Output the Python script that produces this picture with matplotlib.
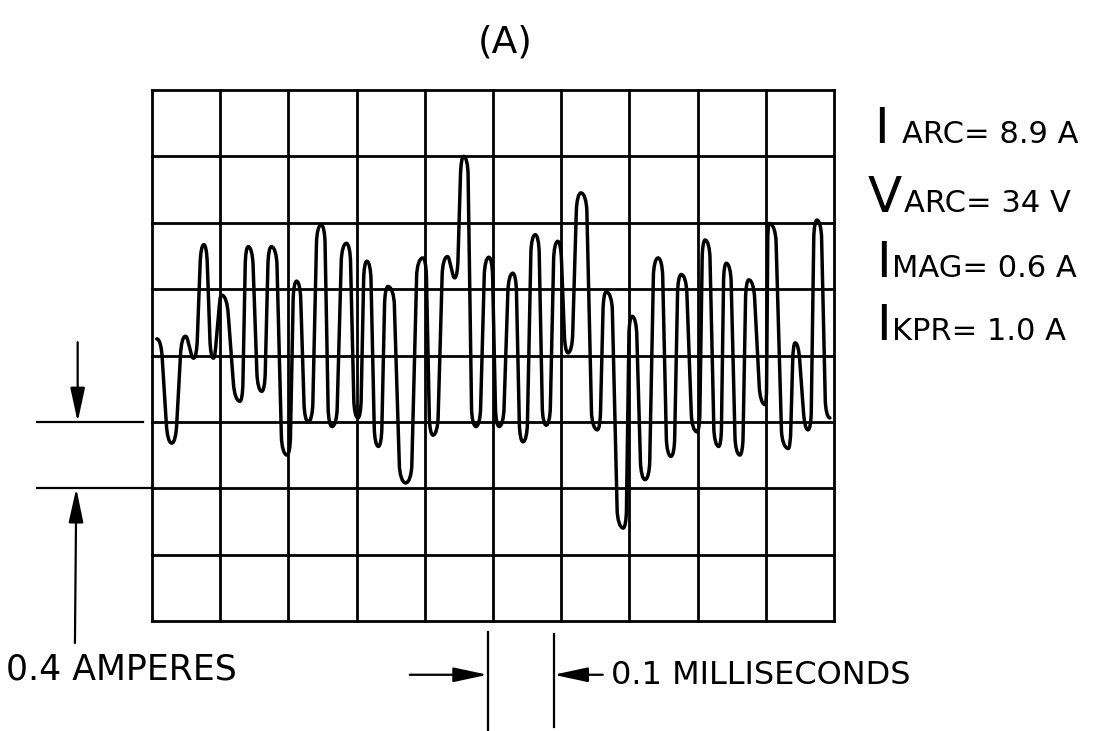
import numpy as np
import matplotlib.pyplot as plt
from matplotlib.path import Path
from matplotlib.patches import PathPatch

# Oscilloscope trace (x in time divisions, y in current divisions)
trace_x = [0.07, 0.29, 0.49, 0.61, 0.76, 0.90, 1.02, 1.29, 1.41, 1.61, 1.75, 1.98,
           2.12, 2.29, 2.48, 2.64, 2.85, 3.02, 3.15, 3.32, 3.46, 3.72, 3.97, 4.12,
           4.33, 4.44, 4.57, 4.75, 4.94, 5.09, 5.29, 5.44, 5.62, 5.78, 5.95, 6.10,
           6.29, 6.53, 6.66, 6.91, 7.04, 7.23, 7.42, 7.61, 7.76, 7.99, 8.11, 8.31,
           8.42, 8.62, 8.75, 8.99, 9.05, 9.33, 9.43, 9.62, 9.75, 9.94]
trace_y = [4.25, 2.68, 4.29, 3.96, 5.67, 3.96, 4.91, 3.31, 5.64, 3.46, 5.64, 2.50,
           5.12, 3.00, 5.97, 2.93, 5.69, 3.06, 5.42, 2.63, 5.04, 2.08, 5.47, 2.80,
           5.49, 5.17, 7.00, 2.93, 5.48, 2.93, 5.24, 2.70, 5.82, 2.95, 5.72, 4.04,
           6.45, 2.88, 4.96, 1.40, 4.59, 2.13, 5.47, 2.48, 5.22, 2.85, 5.74, 2.63,
           5.39, 2.50, 5.14, 3.26, 5.99, 2.60, 4.19, 2.88, 6.04, 3.06]

n_cols, n_rows = 10, 8
title = '(A)'
param_first = ['I', 'V', 'I', 'I']
param_rest = ['ARC= 8.9 A', 'ARC= 34 V', 'MAG= 0.6 A', 'KPR= 1.0 A']
amp_label = '0.4 AMPERES'
time_label = '0.1 MILLISECONDS'

W, H = 1093, 731
fig = plt.figure(figsize=(W / 100, H / 100), dpi=100)
ax = fig.add_axes([152 / W, 1 - 621 / H, (834 - 152) / W, (621 - 90) / H])
ax.set_xlim(0, n_cols)
ax.set_ylim(0, n_rows)
ax.axis('off')

def fpos(x, y):
    # pixel position in the 1093x731 picture -> figure fraction
    return x / W, 1 - y / H

# graticule
for i in range(n_cols + 1):
    ax.plot([i, i], [0, n_rows], color='black', lw=2.0, clip_on=False, solid_capstyle='projecting')
for j in range(n_rows + 1):
    ax.plot([0, n_cols], [j, j], color='black', lw=2.0, clip_on=False, solid_capstyle='projecting')

# trace path: rounded cap at every peak/trough, joined by a straight steep flank
verts = [(trace_x[0], trace_y[0])]
codes = [Path.MOVETO]
for x0, y0, x1, y1 in zip(trace_x[:-1], trace_y[:-1], trace_x[1:], trace_y[1:]):
    dx, dy = x1 - x0, y1 - y0
    r = 0.36 * dx
    rv = min(0.3 * abs(dy), 0.28) * np.sign(dy)
    b = np.array([x0 + r, y0 + rv])
    c = np.array([x1 - r, y1 - rv])
    t = 0.55 * abs(rv) / abs(c[1] - b[1])
    verts += [(x0 + 0.55 * r, y0), tuple(b - t * (c - b)), tuple(b),
              tuple(c),
              tuple(c + t * (c - b)), (x1 - 0.55 * r, y1), (x1, y1)]
    codes += [Path.CURVE4] * 3 + [Path.LINETO] + [Path.CURVE4] * 3
ax.add_patch(PathPatch(Path(verts, codes), facecolor='none', edgecolor='black',
                       lw=2.5, capstyle='round', joinstyle='round', clip_on=False))

# vertical scale marker (left)
ax.plot([-1.68, -0.13], [3, 3], color='black', lw=1.6, clip_on=False)
ax.plot([-1.68, 0], [2, 2], color='black', lw=1.6, clip_on=False)
arrow = dict(arrowstyle='-|>,head_length=1.3,head_width=0.28', color='black',
             lw=1.6, mutation_scale=16, shrinkA=0, shrinkB=0)
ax.annotate('', xy=(-1.09, 3), xytext=(-1.09, 4.2), arrowprops=arrow, annotation_clip=False)
ax.annotate('', xy=(-1.11, 2), xytext=(-1.13, -0.33), arrowprops=arrow, annotation_clip=False)

# horizontal scale marker (bottom)
ax.plot([4.92, 4.92], [-0.17, -1.7], color='black', lw=1.6, clip_on=False)
ax.plot([5.89, 5.89], [-0.2, -1.6], color='black', lw=1.6, clip_on=False)
ax.annotate('', xy=(4.92, -0.81), xytext=(3.78, -0.81), arrowprops=arrow, annotation_clip=False)
ax.annotate('', xy=(5.89, -0.81), xytext=(6.61, -0.81), arrowprops=arrow, annotation_clip=False)

fig.text(*fpos(6, 670), amp_label, fontsize=25, ha='left', va='center')
fig.text(*fpos(611, 676), time_label, fontsize=23, ha='left', va='center')
fig.text(*fpos(505, 43), title, fontsize=27, ha='center', va='center')

# arc parameters on the right
first_x = [874, 868, 876, 876]
rest_x = [902, 904, 892, 892]
baselines = [143, 212, 277, 340]
for f, r, fx, rx, by in zip(param_first, param_rest, first_x, rest_x, baselines):
    fig.text(*fpos(fx, by), f, fontsize=36, ha='left', va='baseline')
    fig.text(*fpos(rx, by), r, fontsize=22, ha='left', va='baseline')

fig.savefig('out.png', dpi=100, facecolor='white')
